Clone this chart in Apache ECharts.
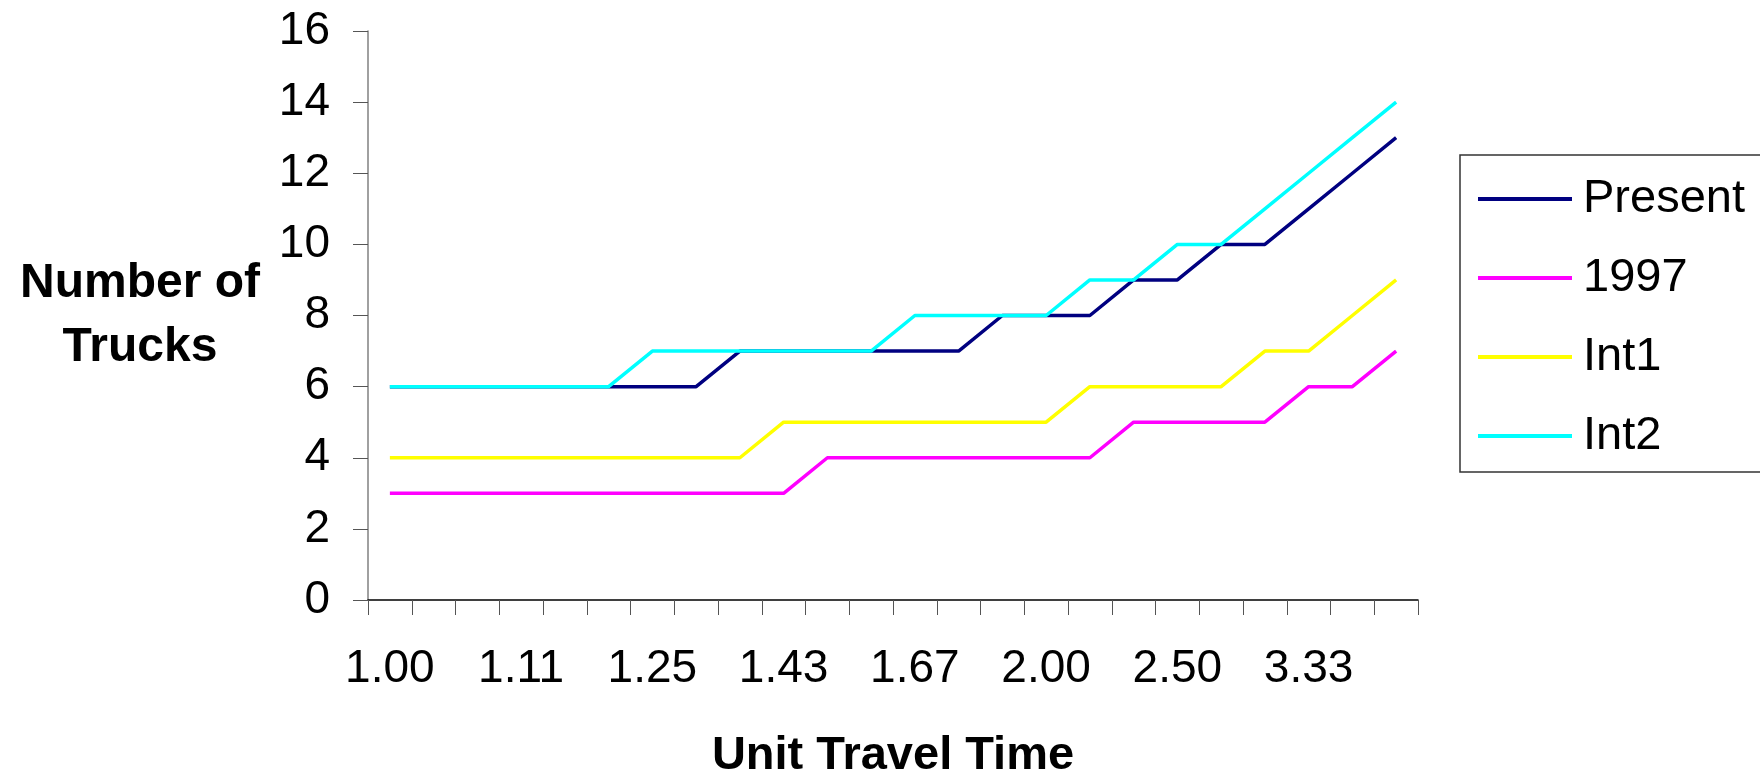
<!DOCTYPE html>
<html>
<head>
<meta charset="utf-8">
<script src="https://cdn.jsdelivr.net/npm/echarts@6/dist/echarts.min.js"></script>
<style>
html,body{margin:0;padding:0;background:#fff;}
#chart{width:1760px;height:774px;}
</style>
</head>
<body>
<div id="chart"></div>
<script>
const categories = ['1.00','1.03','1.07','1.11','1.15','1.20','1.25','1.30','1.36','1.43','1.50','1.58','1.67','1.76','1.88','2.00','2.14','2.31','2.50','2.73','3.00','3.33','3.75','4.29'];
const present = [6,6,6,6,6,6,6,6,7,7,7,7,7,7,8,8,8,9,9,10,10,11,12,13];
const y1997   = [3,3,3,3,3,3,3,3,3,3,4,4,4,4,4,4,4,5,5,5,5,6,6,7];
const int1    = [4,4,4,4,4,4,4,4,4,5,5,5,5,5,5,5,6,6,6,6,7,7,8,9];
const int2    = [6,6,6,6,6,6,7,7,7,7,7,7,8,8,8,8,9,9,10,10,11,12,13,14];
const seriesNames = ['Present','1997','Int1','Int2'];
const seriesColors = ['#000080','#FF00FF','#FFFF00','#00FFFF'];
const seriesData = [present, y1997, int1, int2];

const font = 'Liberation Sans, Arial, sans-serif';
const chart = echarts.init(document.getElementById('chart'));
chart.setOption({
  animation: false,
  backgroundColor: '#fff',
  grid: {left: 368, right: 342, top: 31, bottom: 174, containLabel: false, outerBoundsMode: 'none'},
  legend: {
    orient: 'vertical',
    left: 1460, top: 155,
    padding: [19, 80, 11, 18],
    icon: 'rect',
    itemWidth: 94, itemHeight: 4, itemGap: 29,
    borderColor: '#333', borderWidth: 1.5,
    textStyle: {fontFamily: font, fontSize: 47, color: '#000', lineHeight: 50, padding: [0, 0, 0, 6]},
    data: seriesNames
  },
  xAxis: {
    type: 'category',
    data: categories,
    boundaryGap: true,
    name: 'Unit Travel Time',
    nameLocation: 'middle',
    nameGap: 156,
    nameTextStyle: {fontFamily: font, fontSize: 47, fontWeight: 'bold', color: '#000', align: 'center', verticalAlign: 'middle'},
    axisLine: {show: true, lineStyle: {color: '#000', width: 1.5}},
    axisTick: {show: true, interval: 0, length: 15, inside: false, lineStyle: {color: '#555', width: 1}},
    axisLabel: {interval: 2, margin: 46, fontFamily: font, fontSize: 46, color: '#000'},
    splitLine: {show: false}
  },
  yAxis: {
    type: 'value',
    min: 0, max: 16, interval: 2,
    name: 'Number of\nTrucks',
    nameLocation: 'middle',
    nameRotate: 0,
    nameGap: 228,
    nameTextStyle: {fontFamily: font, fontSize: 48, fontWeight: 'bold', color: '#000', align: 'center', verticalAlign: 'middle', lineHeight: 64},
    axisLine: {show: true, lineStyle: {color: '#808080', width: 1.5}},
    axisTick: {show: true, length: 15, inside: false, lineStyle: {color: '#555', width: 1}},
    axisLabel: {margin: 38, fontFamily: font, fontSize: 46, color: '#000'},
    splitLine: {show: false}
  },
  series: seriesNames.map((n, i) => ({
    name: n,
    type: 'line',
    data: seriesData[i],
    symbol: 'none',
    color: seriesColors[i],
    lineStyle: {color: seriesColors[i], width: 3.5},
    z: 2 + i
  }))
});
</script>
</body>
</html>
